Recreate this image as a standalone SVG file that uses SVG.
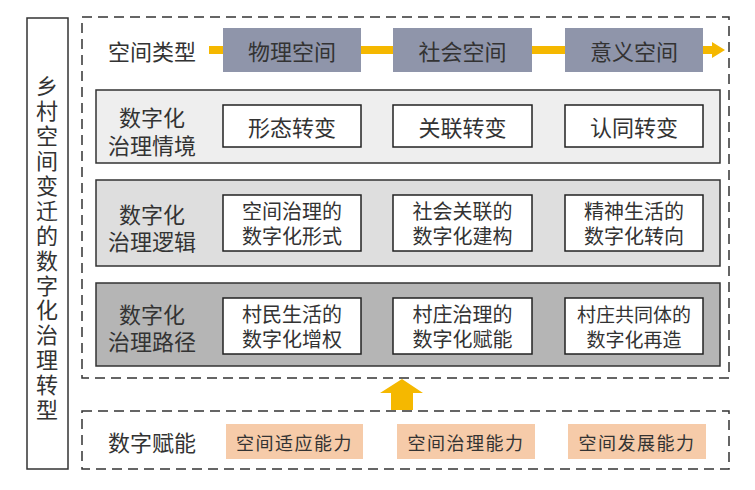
<svg xmlns="http://www.w3.org/2000/svg" width="755" height="490" viewBox="0 0 755 490">
<style>
text{font-family:"Noto Sans CJK SC","Noto Sans",sans-serif;fill:#333;dominant-baseline:central;text-anchor:middle}
.t22{font-size:22px}
.v{font-size:22px;writing-mode:vertical-rl;text-anchor:start;letter-spacing:2.9px}
.t20{font-size:20px}
.t19{font-size:19px}
.t18{font-size:18px;letter-spacing:1.5px}
.dash{fill:none;stroke:#333;stroke-width:1.5;stroke-dasharray:10 6}
.space{fill:#8f95aa}
.row{stroke:#333;stroke-width:1.5}
.box{fill:#fff;stroke:#222;stroke-width:1.5}
.cap{fill:#f6cba9}
.y{fill:#f5b800}
</style>
<g id="title">
<rect x="27" y="18" width="41" height="451" fill="#fff" stroke="#333" stroke-width="1.5"/>
<text class="v" x="47" y="75">乡村空间变迁的数字化治理转型</text>
</g>
<rect class="dash" x="82" y="17" width="647" height="361"/>
<rect class="dash" x="82" y="411" width="647" height="58"/>
<g id="connectors">
<rect class="y" x="209" y="46" width="14" height="8"/>
<rect class="y" x="361" y="46" width="32" height="8"/>
<rect class="y" x="532" y="46" width="33" height="8"/>
<polygon class="y" points="703,46 712,46 712,42 725,50 712,58 712,54 703,54"/>
<polygon class="y" points="402,379 423,393 413,393 413,410 391,410 391,393 380,393"/>
</g>
<g id="spacetype">
<text class="t22" x="152" y="50">空间类型</text>
</g>
<g id="physical"><rect class="space" x="223" y="28" width="138" height="44"/><text class="t22" x="292" y="50">物理空间</text></g>
<g id="social"><rect class="space" x="393" y="28" width="139" height="44"/><text class="t22" x="462.5" y="50">社会空间</text></g>
<g id="meaning"><rect class="space" x="565" y="28" width="138" height="44"/><text class="t22" x="634" y="50">意义空间</text></g>

<g id="row1">
<rect class="row" x="96" y="90" width="624" height="73" fill="#eeeeee"/>
<text class="t22" x="152" y="116">数字化</text>
<text class="t22" x="152" y="144">治理情境</text>
</g>
<g id="r1a"><rect class="box" x="223" y="105" width="138" height="42"/><text class="t22" x="292" y="126">形态转变</text></g>
<g id="r1b"><rect class="box" x="393" y="105" width="139" height="42"/><text class="t22" x="462.5" y="126">关联转变</text></g>
<g id="r1c"><rect class="box" x="565" y="105" width="138" height="42"/><text class="t22" x="634" y="126">认同转变</text></g>

<g id="row2">
<rect class="row" x="96" y="180" width="624" height="86" fill="#dedede"/>
<text class="t22" x="152" y="213">数字化</text>
<text class="t22" x="152" y="240">治理逻辑</text>
</g>
<g id="r2a"><rect class="box" x="223" y="195" width="138" height="56"/><text class="t20" x="292" y="210">空间治理的</text><text class="t20" x="292" y="235">数字化形式</text></g>
<g id="r2b"><rect class="box" x="393" y="195" width="139" height="56"/><text class="t20" x="462.5" y="210">社会关联的</text><text class="t20" x="462.5" y="235">数字化建构</text></g>
<g id="r2c"><rect class="box" x="565" y="195" width="138" height="56"/><text class="t20" x="634" y="210">精神生活的</text><text class="t20" x="634" y="235">数字化转向</text></g>

<g id="row3">
<rect class="row" x="96" y="283" width="624" height="83" fill="#b5b5b5"/>
<text class="t22" x="152" y="313">数字化</text>
<text class="t22" x="152" y="340">治理路径</text>
</g>
<g id="r3a"><rect class="box" x="223" y="298" width="138" height="56"/><text class="t20" x="292" y="313">村民生活的</text><text class="t20" x="292" y="338">数字化增权</text></g>
<g id="r3b"><rect class="box" x="393" y="298" width="139" height="56"/><text class="t20" x="462.5" y="313">村庄治理的</text><text class="t20" x="462.5" y="338">数字化赋能</text></g>
<g id="r3c"><rect class="box" x="565" y="298" width="138" height="56"/><text class="t19" x="634" y="313">村庄共同体的</text><text class="t19" x="634" y="338">数字化再造</text></g>

<g id="empower"><text class="t22" x="152" y="441">数字赋能</text></g>
<g id="cap1"><rect class="cap" x="226" y="424" width="137" height="35"/><text class="t18" x="294.5" y="441.5">空间适应能力</text></g>
<g id="cap2"><rect class="cap" x="397" y="424" width="138" height="35"/><text class="t18" x="466" y="441.5">空间治理能力</text></g>
<g id="cap3"><rect class="cap" x="568" y="424" width="138" height="35"/><text class="t18" x="637" y="441.5">空间发展能力</text></g>
</svg>
